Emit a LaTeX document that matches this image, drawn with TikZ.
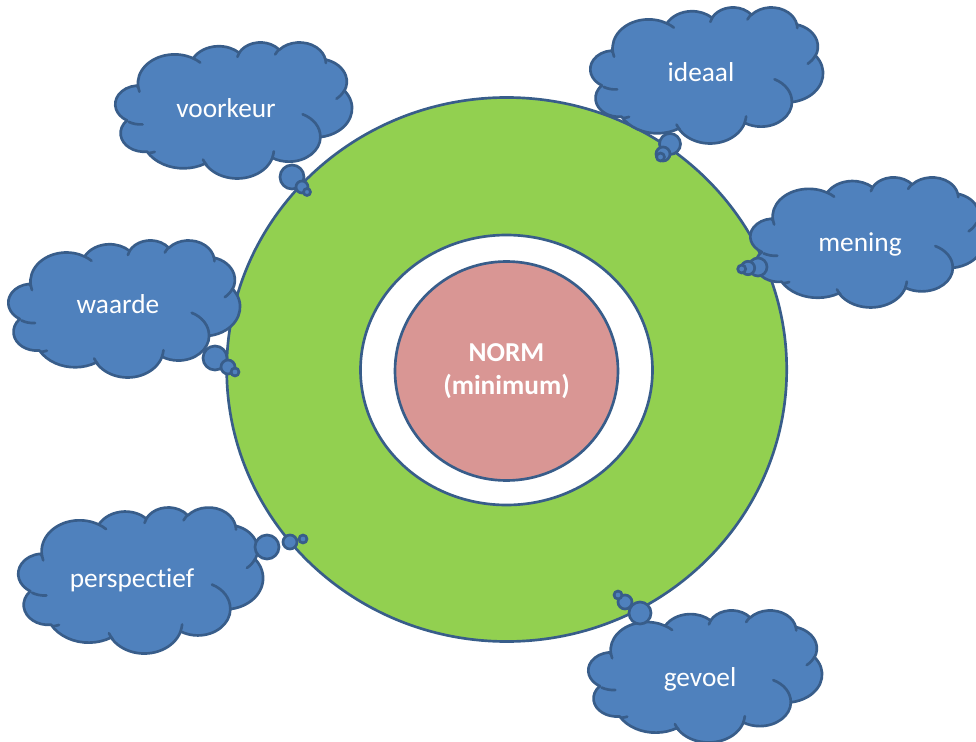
\documentclass[tikz,border=0pt]{standalone}
\usepackage{fontspec}
\setmainfont{Carlito}[Ligatures=NoCommon]
\usepackage{tikz}

\definecolor{cloudblue}{HTML}{4F81BD}
\definecolor{cloudline}{HTML}{385D8A}
\definecolor{ringgreen}{HTML}{92D050}
\definecolor{normpink}{HTML}{D99694}

\tikzset{
  cloudbody/.style={fill=cloudblue, draw=cloudline, line width=2pt, line join=round},
  cloudcrease/.style={draw=cloudline, line width=2pt, line cap=round},
  bubble/.style={fill=cloudblue, draw=cloudline, line width=2pt},
  ringedge/.style={draw=cloudline, line width=2pt},
  word/.style={text=white, anchor=base, inner sep=0pt, font=\fontsize{20.5}{24.5}\selectfont}
}

% outline of one cloud, in a 43.2 x 43.2 box
\newcommand\cloudoutline{}
\gdef\cloudoutline{(3.900,14.370)}
\foreach \rw/\rh/\st/\sw in {6.753/9.190/-190.48748/123.78053, 5.333/7.267/-144.10238/89.94523,
  4.365/5.945/-145.80792/99.72302, 4.857/6.595/-130.98607/117.24173,
  5.333/7.273/-78.70888/109.02692, 6.775/9.220/-46.26725/130.269,
  5.785/7.867/0.62502/114.03333, 6.752/9.215/22.46253/120.28748,
  7.720/10.543/66.24263/75.71102, 4.360/5.918/-274.94208/146.73557,
  4.345/5.945/-246.8285/152.51885}{%
  \pgfmathsetmacro\puffA{atan2(\rw*sin(\st),\rh*cos(\st))}%
  \pgfmathsetmacro\puffB{atan2(\rw*sin(\st+\sw),\rh*cos(\st+\sw))}%
  \pgfmathsetmacro\puffE{\puffA+mod(\puffB-\puffA+720,360)}%
  \xdef\cloudoutline{\cloudoutline arc[start angle=\puffA, end angle=\puffE, x radius=\rw, y radius=\rh]}%
}

% the little creases inside
\newcommand\cloudcreases{}
\gdef\cloudcreases{}
\foreach \px/\py/\rw/\rh/\st/\sw in {4.693/26.177/4.345/5.945/86.742/26.4295,
  6.928/34.899/4.360/5.918/73.61047/11.44747, 16.478/39.090/6.752/9.215/137.62415/14.0811,
  28.827/34.751/6.752/9.215/6.45327/15.99835, 34.129/22.954/5.785/7.867/-70.29235/70.91737,
  41.798/15.354/5.333/7.273/30.31803/27.7515, 38.324/5.426/4.857/6.595/-13.74433/14.8589,
  29.078/3.952/4.857/6.595/-149.18145/18.19537, 22.141/4.720/4.365/5.945/-163.49427/17.68635,
  14.000/5.192/6.753/9.190/-66.70695/12.31935, 4.127/15.789/6.753/9.190/157.65435/11.85817}{%
  \pgfmathsetmacro\puffA{atan2(\rw*sin(\st),\rh*cos(\st))}%
  \pgfmathsetmacro\puffB{atan2(\rw*sin(\st+\sw),\rh*cos(\st+\sw))}%
  \pgfmathsetmacro\puffE{\puffA+mod(\puffB-\puffA+720,360)}%
  \xdef\cloudcreases{\cloudcreases (\px,\py) arc[start angle=\puffA, end angle=\puffE, x radius=\rw, y radius=\rh]}%
}

% #1,#2 top left corner, #3 width, #4 height
\newcommand\thoughtcloud[4]{%
  \begin{scope}[shift={(#1,#2)}, x={(#3*0.75pt/43.2,0pt)}, y={(0pt,-#4*0.75pt/43.2)}]
    \path[cloudbody] \cloudoutline -- cycle;
    \path[cloudcrease] \cloudcreases;
  \end{scope}}

\begin{document}
\begin{tikzpicture}[x=0.75pt, y=-0.75pt]
  \useasboundingbox (0,0) rectangle (976,742);

  % rings round the norm
  \path[ringedge, fill=ringgreen] (506.7,369.5) ellipse [x radius=280, y radius=272];
  \path[ringedge, fill=white] (506.5,370) ellipse [x radius=146, y radius=135];
  \path[ringedge, fill=normpink] (506.5,371) ellipse [x radius=111.5, y radius=109.5];
  \node[word, align=center, font=\bfseries\fontsize{20.5}{24.5}\selectfont] (norm) at (506.5,394) {NORM\\(minimum)};

  % clouds
  \thoughtcloud{117}{42}{235}{136}
  \thoughtcloud{592}{7}{231}{136}
  \thoughtcloud{752}{177}{232}{130}
  \thoughtcloud{10}{240}{230}{137}
  \thoughtcloud{20}{507}{243}{146}
  \thoughtcloud{590}{610}{232}{132}

  % bubbles: big, middle, small
  \foreach \cx/\cy/\r in {292/177/12, 302/187/6, 307/192/3.5,
                          670/144/10.5, 663/154/7, 660.5/157/4,
                          758/267/9, 748/268/6.7, 741.7/269/4,
                          215/358/12, 228/367/7, 235/372/4,
                          267/547/12, 290/542/7, 303/539/4,
                          640/613/11, 625/602/7, 618/595/4}
    \path[bubble] (\cx,\cy) circle [radius=\r];

  \node[word] (voorkeur) at (226,117.3) {voorkeur};
  \node[word] (ideaal) at (701,81.7) {ideaal};
  \node[word] (mening) at (860,251.7) {mening};
  \node[word] (waarde) at (118,313) {waarde};
  \node[word] (perspectief) at (132,587) {perspectief};
  \node[word] (gevoel) at (700,686) {gevoel};
\end{tikzpicture}
\end{document}
